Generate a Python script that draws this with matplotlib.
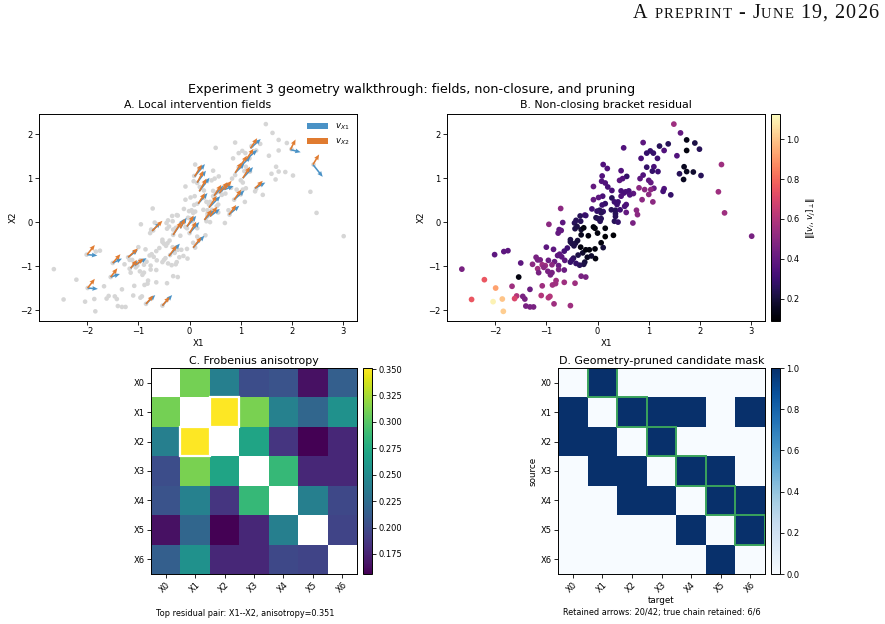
import matplotlib
matplotlib.use('Agg')
import matplotlib.pyplot as plt
from matplotlib.patches import Rectangle
import numpy as np

# sample cloud shared by panels A and B
x1 = [1.49, 1.62, 1.74, 1.90, 1.99, 1.74, 0.89, 1.38, 1.21, 1.30, 1.03, 0.96, 1.09, 0.51, 1.55,
      1.17, 0.85, 1.69, 0.96, 1.10, 1.07, 1.18, 0.89, 1.60, 1.74, 1.87, 2.02, 1.68, 2.42, 0.11,
      0.19, 0.46, 0.09, 0.57, 0.43, 0.49, 0.83, 0.08, 0.15, 1.00, 1.04, 0.81, 1.10, 1.30, 1.28,
      0.92, 1.04, 0.20, 0.28, 0.46, 0.55, 0.61, 0.51, 0.70, 0.63, 0.10, 0.28, 0.46, 1.00, 1.43,
      0.87, 1.08, 2.36, 0.33, 0.40, 0.38, 0.15, 0.09, 0.56, 0.53, 0.27, 0.35, 0.44, 0.11, 0.56,
      0.76, 0.78, 0.35, 2.48, 3.01, -0.08, -0.08, 0.02, -0.72, -0.25, -0.11, 0.04, 0.07, -0.01, -0.03,
      -0.95, -0.68, -0.75, -0.71, -0.77, -0.45, -0.42, -0.33, -0.34, -0.23, -0.44, -0.40, -0.32, -0.27, 0.01,
      0.07, 0.05, -0.08, -0.05, 0.00, 0.15, -0.18, -0.32, -0.53, -0.50, -0.46, -0.43, -0.39, -0.53, -1.00,
      -0.86, -0.65, -0.59, -0.78, -0.74, -0.33, -0.29, -0.38, -0.23, -0.16, -0.05, 0.07, 0.11, -0.04, -0.20,
      -0.12, -0.25, -0.27, -0.35, -0.42, -0.47, -0.50, -0.53, -0.64, -0.70, -0.76, -0.76, -0.84, -0.96, -0.89,
      -0.65, -2.01, -1.83, -1.75, -2.65, -1.50, -1.20, -1.17, -1.12, -1.27, -1.08, -1.02, -1.05, -1.17, -1.15,
      -0.97, -0.89, -0.92, -1.54, -2.21, -1.99, -1.67, -1.32, -1.08, -0.88, -0.81, -0.82, -0.65, -0.44, -0.32,
      -0.23, -1.58, -1.62, -1.46, -1.42, -1.10, -0.96, -0.93, -2.46, -2.04, -1.86, -1.84, -1.40, -1.32, -1.25,
      -0.85, -0.53, 0.15, 0.31, 0.33, 0.40, 0.35, 0.69]
x2 = [2.23, 2.03, 1.87, 1.80, 1.66, 1.63, 1.81, 1.78, 1.73, 1.63, 1.62, 1.57, 1.57, 1.69, 1.51,
      1.45, 1.45, 1.26, 1.25, 1.26, 1.16, 1.15, 1.07, 1.10, 1.15, 1.14, 1.06, 0.97, 1.31, 1.31,
      1.22, 1.17, 1.05, 1.04, 0.95, 0.99, 0.99, 0.93, 0.89, 0.95, 0.90, 0.78, 0.77, 0.76, 0.70,
      0.74, 0.74, 0.80, 0.72, 0.71, 0.69, 0.71, 0.66, 0.65, 0.62, 0.59, 0.55, 0.59, 0.63, 0.62,
      0.51, 0.46, 0.69, 0.46, 0.46, 0.40, 0.42, 0.39, 0.40, 0.36, 0.28, 0.27, 0.28, 0.24, 0.22,
      0.27, 0.17, 0.19, 0.21, -0.32, 0.81, 0.51, 0.56, 0.31, 0.16, 0.30, 0.27, 0.21, 0.25, 0.10,
      -0.05, -0.01, -0.17, -0.19, -0.25, -0.02, 0.04, 0.02, 0.14, 0.15, -0.15, -0.10, -0.17, -0.13, 0.08,
      0.08, 0.02, -0.11, -0.14, -0.25, -0.14, -0.31, -0.29, -0.40, -0.49, -0.54, -0.48, -0.42, -0.45, -0.57,
      -0.62, -0.66, -0.59, -0.76, -0.73, -0.57, -0.70, -0.75, -0.63, -0.63, -0.61, -0.47, -0.58, -0.83, -0.80,
      -0.77, -0.91, -0.96, -0.98, -0.94, -0.82, -0.86, -0.91, -0.87, -0.79, -0.99, -1.08, -0.90, -0.87, -0.97,
      -1.09, -0.74, -0.67, -0.65, -1.07, -0.93, -0.80, -0.86, -0.86, -0.96, -0.97, -0.99, -1.03, -1.06, -1.15,
      -1.12, -1.15, -1.20, -1.25, -1.31, -1.50, -1.46, -1.53, -1.45, -1.43, -1.33, -1.40, -1.37, -1.39, -1.23,
      -1.25, -1.68, -1.74, -1.69, -1.75, -1.67, -1.72, -1.69, -1.76, -1.81, -1.75, -2.03, -1.91, -1.93, -1.93,
      -1.86, -1.90, -0.33, -0.30, 0.02, 0.00, 0.13, -0.02]
resid = [0.55, 0.40, 0.13, 0.22, 0.25, 0.12, 0.38, 0.25, 0.25, 0.35, 0.28, 0.28, 0.28, 0.35, 0.35,
         0.30, 0.33, 0.15, 0.28, 0.33, 0.28, 0.30, 0.35, 0.25, 0.15, 0.18, 0.25, 0.15, 0.55, 0.35,
         0.35, 0.35, 0.35, 0.28, 0.38, 0.35, 0.38, 0.35, 0.35, 0.38, 0.40, 0.50, 0.40, 0.35, 0.32,
         0.50, 0.50, 0.33, 0.33, 0.33, 0.35, 0.33, 0.33, 0.38, 0.35, 0.33, 0.25, 0.35, 0.50, 0.28,
         0.50, 0.50, 0.55, 0.30, 0.30, 0.30, 0.28, 0.30, 0.35, 0.33, 0.25, 0.25, 0.30, 0.28, 0.40,
         0.50, 0.50, 0.25, 0.55, 0.45, 0.40, 0.40, 0.38, 0.50, 0.35, 0.32, 0.25, 0.25, 0.28, 0.22,
         0.50, 0.38, 0.38, 0.40, 0.40, 0.25, 0.25, 0.25, 0.25, 0.28, 0.22, 0.22, 0.18, 0.12, 0.25,
         0.25, 0.25, 0.12, 0.12, 0.12, 0.12, 0.12, 0.15, 0.22, 0.22, 0.22, 0.22, 0.20, 0.22, 0.38,
         0.38, 0.32, 0.30, 0.38, 0.38, 0.12, 0.18, 0.22, 0.12, 0.12, 0.12, 0.12, 0.20, 0.12, 0.15,
         0.18, 0.20, 0.22, 0.25, 0.28, 0.25, 0.28, 0.28, 0.38, 0.38, 0.42, 0.45, 0.42, 0.42, 0.50,
         0.42, 0.38, 0.38, 0.38, 0.45, 0.38, 0.45, 0.45, 0.45, 0.50, 0.55, 0.55, 0.50, 0.55, 0.45,
         0.45, 0.45, 0.45, 0.12, 0.75, 0.92, 0.55, 0.42, 0.55, 0.55, 0.55, 0.55, 0.55, 0.55, 0.45,
         0.45, 0.60, 0.70, 0.45, 0.45, 0.60, 0.60, 0.60, 0.75, 1.10, 1.00, 1.02, 0.45, 0.45, 0.45,
         0.55, 0.55, 0.10, 0.10, 0.25, 0.28, 0.25, 0.45]

# local intervention fields (base point, v_X1, v_X2)
arr_x = [-2.00, -1.50, -1.54, -1.99, -1.20, -1.15, -1.05, -0.85, -0.53, -0.73, -0.40, -0.32, -0.18,
         -0.05, 0.00, 0.07, 0.10, 0.15, 0.19, 0.17, 0.29, 0.40, 0.38, 0.48, 0.58, 0.68, 0.77, 0.87,
         0.89, 0.98, 1.04, 1.11, 1.19, 1.28, 1.97, 2.41]
arr_y = [-0.74, -0.93, -1.25, -1.50, -0.80, -1.05, -0.97, -1.86, -1.90, -0.20, -0.77, -0.29, -0.14,
         -0.10, -0.25, -0.58, 1.04, 0.90, 0.70, 0.42, 0.05, 0.13, 0.33, 0.60, 0.66, 0.74, 0.17, 0.51,
         1.12, 1.25, 1.00, 1.43, 1.68, 0.77, 1.65, 1.31]
v1_u = [0.20, 0.18, 0.18, 0.20, 0.19, 0.14, 0.21, 0.18, 0.19, 0.16, 0.21, 0.21, 0.12,
        0.18, 0.19, 0.22, 0.20, 0.17, 0.20, 0.18, 0.18, 0.19, 0.22, 0.18, 0.22, 0.18, 0.20, 0.20,
        0.18, 0.21, 0.20, 0.21, 0.20, 0.20, 0.20, 0.19]
v1_v = [-0.02, 0.10, 0.07, -0.02, 0.17, 0.17, 0.15, 0.20, 0.24, 0.19, 0.28, 0.36, 0.24,
        0.24, 0.25, 0.27, 0.28, 0.27, 0.31, 0.24, 0.22, 0.17, 0.26, 0.23, 0.24, 0.08, 0.20, 0.21,
        0.21, 0.24, 0.25, 0.21, 0.21, 0.13, -0.06, -0.28]
v2_u = [0.15, 0.15, 0.13, 0.14, 0.19, 0.12, 0.15, 0.14, 0.14, 0.20, 0.15, 0.16, 0.09,
        0.13, 0.13, 0.16, 0.14, 0.12, 0.14, 0.13, 0.14, 0.14, 0.15, 0.14, 0.16, 0.14, 0.14, 0.14,
        0.13, 0.14, 0.14, 0.14, 0.13, 0.15, 0.10, 0.12]
v2_v = [0.22, 0.20, 0.20, 0.21, 0.20, 0.19, 0.14, 0.19, 0.20, 0.23, 0.24, 0.30, 0.22,
        0.25, 0.26, 0.24, 0.27, 0.27, 0.29, 0.24, 0.23, 0.22, 0.27, 0.25, 0.25, 0.20, 0.22, 0.23,
        0.24, 0.26, 0.26, 0.24, 0.23, 0.17, 0.23, 0.23]

names = ['X0', 'X1', 'X2', 'X3', 'X4', 'X5', 'X6']
aniso = [
    [np.nan, 0.310, 0.240, 0.202, 0.206, 0.165, 0.215],
    [0.310, np.nan, 0.351, 0.312, 0.242, 0.220, 0.255],
    [0.240, 0.351, np.nan, 0.270, 0.186, 0.156, 0.178],
    [0.202, 0.312, 0.270, np.nan, 0.287, 0.178, 0.178],
    [0.206, 0.242, 0.186, 0.287, np.nan, 0.240, 0.198],
    [0.165, 0.220, 0.156, 0.178, 0.240, np.nan, 0.196],
    [0.215, 0.255, 0.178, 0.178, 0.198, 0.196, np.nan],
]
mask = [
    [0, 1, 0, 0, 0, 0, 0],
    [1, 0, 1, 1, 1, 0, 1],
    [1, 1, 0, 1, 0, 0, 0],
    [0, 1, 1, 0, 1, 1, 0],
    [0, 0, 1, 1, 0, 1, 1],
    [0, 0, 0, 0, 1, 0, 1],
    [0, 0, 0, 0, 0, 1, 0],
]
chain = [(0, 1), (1, 2), (2, 3), (3, 4), (4, 5), (5, 6)]
top_pair = (1, 2)

W, H = 885, 624
fig = plt.figure(figsize=(W / 100, H / 100), dpi=100)


def px(l, t, r, b):
    return [l / W, 1 - b / H, (r - l) / W, (b - t) / H]


TS = 6.0
LS = 6.3
TT = 7.9


def style(ax):
    ax.tick_params(labelsize=TS, length=2.6, width=0.6, pad=2)
    for s in ax.spines.values():
        s.set_linewidth(0.7)


# page header, small caps faked with two sizes, spread to the page margin
r = fig.canvas.get_renderer()
head = [('A', 14.5), (' ', 14.5), ('PREPRINT', 10.6), (' - ', 14.5), ('J', 14.5), ('UNE', 10.6),
        (' 19, 2026', 14.5)]
chars = [(ch, size) for s, size in head for ch in s]
texts = []
for ch, size in chars:
    t = fig.text(0, 1 - 18 / H, ch, fontsize=size, family='Liberation Serif',
                 va='baseline', color='#111111')
    texts.append(t)
widths = []
for t, (ch, size) in zip(texts, chars):
    widths.append(t.get_window_extent(r).width if ch != ' ' else size * 0.25 * 100 / 72)
left, right = 633, 878
track = (right - left - sum(widths)) / (len(chars) - 1)
xpos = left
for t, w in zip(texts, widths):
    t.set_x(xpos / W)
    xpos += w + track

fig.text(412 / W, 1 - 89 / H, 'Experiment 3 geometry walkthrough: fields, non-closure, and pruning',
         ha='center', va='center', fontsize=9.2)

# A
axA = fig.add_axes(px(39, 114, 357, 321))
axA.scatter(x1, x2, s=11, color='#d6d6d6', edgecolors='none', zorder=1)
q1 = axA.quiver(arr_x, arr_y, v1_u, v1_v, angles='xy', scale_units='xy', scale=1,
                color='#4a92c6', width=0.005, headwidth=3, headlength=3.5, headaxislength=3.2,
                zorder=2, label=r'$v_{X1}$')
q2 = axA.quiver(arr_x, arr_y, v2_u, v2_v, angles='xy', scale_units='xy', scale=1,
                color='#e07b30', width=0.005, headwidth=3, headlength=3.5, headaxislength=3.2,
                zorder=3, label=r'$v_{X2}$')
axA.set_xlim(-2.94, 3.27)
axA.set_ylim(-2.25, 2.46)
axA.set_xticks([-2, -1, 0, 1, 2, 3])
axA.set_yticks([-2, -1, 0, 1, 2])
axA.set_xlabel('X1', fontsize=LS, labelpad=2)
axA.set_ylabel('X2', fontsize=LS, labelpad=2)
axA.set_title('A. Local intervention fields', fontsize=TT, pad=4)
axA.legend(loc='upper right', fontsize=6.2, frameon=False, handlelength=2.4, borderaxespad=0.5)
style(axA)

# B
axB = fig.add_axes(px(447, 114, 765, 321))
sc = axB.scatter(x1, x2, c=resid, cmap='magma', vmin=0.088, vmax=1.126, s=17, edgecolors='none')
axB.set_xlim(-2.94, 3.27)
axB.set_ylim(-2.25, 2.46)
axB.set_xticks([-2, -1, 0, 1, 2, 3])
axB.set_yticks([-2, -1, 0, 1, 2])
axB.set_xlabel('X1', fontsize=LS, labelpad=2)
axB.set_ylabel('X2', fontsize=LS, labelpad=2)
axB.set_title('B. Non-closing bracket residual', fontsize=TT, pad=4)
style(axB)
caxB = fig.add_axes(px(771, 114, 780, 321))
cbB = fig.colorbar(sc, cax=caxB, ticks=[0.2, 0.4, 0.6, 0.8, 1.0])
cbB.set_label(r'$\|[v_i, v_j]_\perp\|$', fontsize=LS, labelpad=4)
style(caxB)

# C
axC = fig.add_axes(px(151, 368, 357, 574))
A = np.array(aniso)
im = axC.imshow(A, cmap='viridis', aspect='auto', interpolation='nearest')
i, j = top_pair
for (a, b) in [(i, j), (j, i)]:
    axC.add_patch(Rectangle((b - 0.5, a - 0.5), 1, 1, fill=False, edgecolor='white', lw=1.6))
axC.set_xticks(range(len(names)))
axC.set_yticks(range(len(names)))
axC.set_xticklabels(names, rotation=45, ha='right', rotation_mode='anchor')
axC.set_yticklabels(names)
axC.set_title('C. Frobenius anisotropy', fontsize=TT, pad=3)
style(axC)
caxC = fig.add_axes(px(363, 368, 372, 574))
cbC = fig.colorbar(im, cax=caxC, ticks=[0.175, 0.2, 0.225, 0.25, 0.275, 0.3, 0.325, 0.35])
style(caxC)
fig.text(245 / W, 1 - 613 / H, 'Top residual pair: %s--%s, anisotropy=%.3f'
         % (names[i], names[j], np.nanmax(A)), ha='center', va='center', fontsize=5.9)

# D
axD = fig.add_axes(px(558, 368, 765, 574))
M = np.array(mask)
imD = axD.imshow(M, cmap='Blues', vmin=0, vmax=1, aspect='auto', interpolation='nearest')
for (a, b) in chain:
    axD.add_patch(Rectangle((b - 0.5, a - 0.5), 1, 1, fill=False, edgecolor='#3aa35c', lw=1.4))
axD.set_xticks(range(len(names)))
axD.set_yticks(range(len(names)))
axD.set_xticklabels(names, rotation=45, ha='right', rotation_mode='anchor')
axD.set_yticklabels(names)
axD.set_xlabel('target', fontsize=LS, labelpad=1)
axD.set_ylabel('source', fontsize=LS, labelpad=2)
axD.set_title('D. Geometry-pruned candidate mask', fontsize=TT, pad=3)
style(axD)
caxD = fig.add_axes(px(771, 368, 780, 574))
cbD = fig.colorbar(imD, cax=caxD, ticks=[0, 0.2, 0.4, 0.6, 0.8, 1.0])
style(caxD)
kept = int(M.sum())
chain_kept = sum(M[a, b] for a, b in chain)
fig.text(662 / W, 1 - 613 / H, 'Retained arrows: %d/42; true chain retained: %d/%d'
         % (kept, chain_kept, len(chain)), ha='center', va='center', fontsize=5.9)

fig.savefig('out.png', dpi=100)
